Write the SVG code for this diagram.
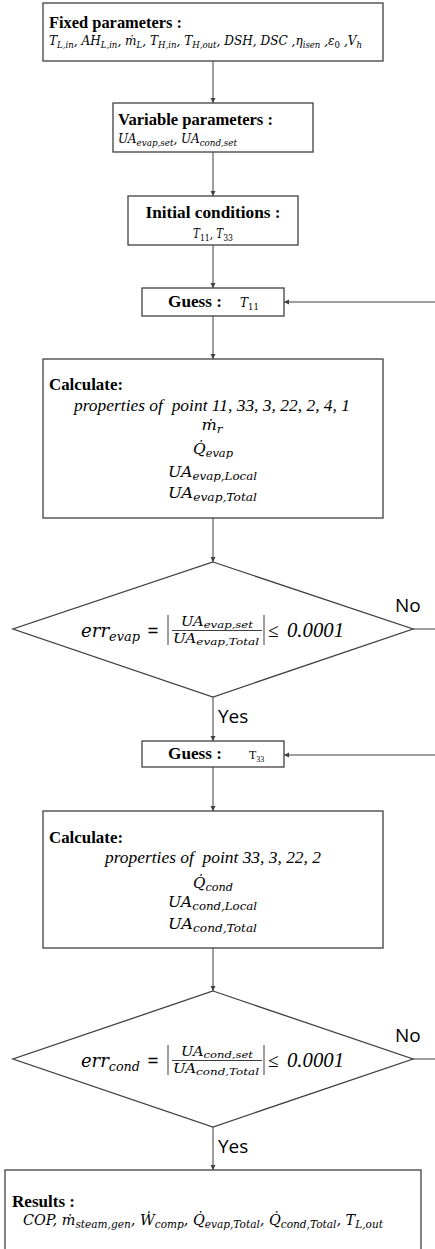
<svg xmlns="http://www.w3.org/2000/svg" width="435" height="1249" viewBox="0 0 435 1249">
<style>
.box{fill:#fff;stroke:#404040;stroke-width:1.3}
.conn{stroke:#404040;stroke-width:1;fill:none}
.b{font-family:"Liberation Serif","Times New Roman",serif;font-weight:bold;font-size:17px;fill:#000}
.m{font-family:"DejaVu Serif",serif;font-style:italic;fill:#000}
.t{font-family:"Liberation Serif","Times New Roman",serif;font-style:italic;fill:#000}
.up{font-style:normal}
.lab{font-family:"Open Sans","Liberation Sans",sans-serif;font-size:19px;fill:#000}
</style>
<defs>
<marker id="ah" markerUnits="userSpaceOnUse" markerWidth="6" markerHeight="6" refX="5" refY="2.5" orient="auto">
<path d="M0,0 L5,2.5 L0,5 z" fill="#404040"/>
</marker>
</defs>

<g id="connectors">
<line class="conn" x1="213" y1="61" x2="213" y2="103" marker-end="url(#ah)"/>
<line class="conn" x1="213" y1="152" x2="213" y2="196" marker-end="url(#ah)"/>
<line class="conn" x1="213" y1="245" x2="213" y2="288" marker-end="url(#ah)"/>
<line class="conn" x1="213" y1="316" x2="213" y2="359" marker-end="url(#ah)"/>
<line class="conn" x1="213" y1="518" x2="213" y2="562" marker-end="url(#ah)"/>
<line class="conn" x1="213" y1="697" x2="213" y2="741" marker-end="url(#ah)"/>
<line class="conn" x1="213" y1="767" x2="213" y2="811" marker-end="url(#ah)"/>
<line class="conn" x1="213" y1="948" x2="213" y2="991" marker-end="url(#ah)"/>
<line class="conn" x1="213" y1="1127" x2="213" y2="1170" marker-end="url(#ah)"/>
<line class="conn" x1="413" y1="629" x2="435" y2="629"/>
<line class="conn" x1="435" y1="302" x2="284" y2="302" marker-end="url(#ah)"/>
<line class="conn" x1="413" y1="1059" x2="435" y2="1059"/>
<line class="conn" x1="435" y1="755" x2="284" y2="755" marker-end="url(#ah)"/>
</g>

<g id="fixed">
<rect class="box" x="43" y="3" width="340" height="58"/>
<text class="b" x="49" y="28" font-size="16.5" textLength="133" lengthAdjust="spacingAndGlyphs">Fixed parameters :</text>
<text class="m" x="49" y="45" font-size="12" textLength="313" lengthAdjust="spacingAndGlyphs">T<tspan font-size="8.5" dy="3">L,in</tspan><tspan dy="-3">,  AH</tspan><tspan font-size="8.5" dy="3">L,in</tspan><tspan dy="-3">,  ṁ</tspan><tspan font-size="8.5" dy="3">L</tspan><tspan dy="-3">,  T</tspan><tspan font-size="8.5" dy="3">H,in</tspan><tspan dy="-3">, T</tspan><tspan font-size="8.5" dy="3">H,out</tspan><tspan dy="-3">, DSH,  DSC ,η</tspan><tspan font-size="8.5" dy="3">isen</tspan><tspan dy="-3"> ,ε</tspan><tspan font-size="8.5" dy="3" class="up">0</tspan><tspan dy="-3"> ,V</tspan><tspan font-size="8.5" dy="3">h</tspan></text>
</g>

<g id="variable">
<rect class="box" x="113" y="103" width="200" height="49"/>
<text class="b" x="118" y="125" font-size="16.5" textLength="155" lengthAdjust="spacingAndGlyphs">Variable parameters :</text>
<text class="m" x="118" y="143" font-size="12.5" textLength="119" lengthAdjust="spacingAndGlyphs">UA<tspan font-size="9" dy="3">evap,set</tspan><tspan dy="-3">, UA</tspan><tspan font-size="9" dy="3">cond,set</tspan></text>
</g>

<g id="initial">
<rect class="box" x="128" y="196" width="170" height="49"/>
<text class="b" x="213" y="218" text-anchor="middle" textLength="135" lengthAdjust="spacingAndGlyphs">Initial conditions :</text>
<text class="m" x="193" y="238" font-size="12" textLength="40" lengthAdjust="spacingAndGlyphs">T<tspan font-size="9" dy="3" class="up">11</tspan><tspan dy="-3">, T</tspan><tspan font-size="9" dy="3" class="up">33</tspan></text>
</g>

<g id="guess1">
<rect class="box" x="142" y="288" width="142" height="28"/>
<text class="b" x="168" y="307" textLength="54" lengthAdjust="spacingAndGlyphs">Guess :</text>
<text class="m" x="240" y="307" font-size="12">T<tspan font-size="8.5" dy="3" class="up">11</tspan></text>
</g>

<g id="calc1">
<rect class="box" x="43" y="359" width="340" height="159"/>
<text class="b" x="49" y="390" textLength="74" lengthAdjust="spacingAndGlyphs">Calculate:</text>
<text class="t" x="212" y="411" font-size="17" text-anchor="middle" textLength="276" lengthAdjust="spacingAndGlyphs">properties of &#160;point 11, 33, 3, 22, 2, 4, 1</text>
<text class="m" x="212" y="430" font-size="15.5" text-anchor="middle" textLength="21" lengthAdjust="spacingAndGlyphs">ṁ<tspan font-size="11.5" dy="3">r</tspan></text>
<text class="m" x="213" y="454" font-size="15.5" text-anchor="middle" textLength="40" lengthAdjust="spacingAndGlyphs">Q̇<tspan font-size="11.5" dy="3">evap</tspan></text>
<text class="m" x="212.5" y="477" font-size="15.5" text-anchor="middle" textLength="89" lengthAdjust="spacingAndGlyphs">UA<tspan font-size="11.5" dy="3">evap,Local</tspan></text>
<text class="m" x="212.5" y="498" font-size="15.5" text-anchor="middle" textLength="89" lengthAdjust="spacingAndGlyphs">UA<tspan font-size="11.5" dy="3">evap,Total</tspan></text>
</g>

<g id="check1">
<polygon class="box" points="213,562 413,629 213,697 13,629"/>
<text class="m" x="81" y="637" font-size="19" textLength="59" lengthAdjust="spacingAndGlyphs">err<tspan font-size="13.5" dy="4">evap</tspan></text>
<text x="147" y="637" font-family="DejaVu Serif,serif" font-size="18" textLength="12" lengthAdjust="spacingAndGlyphs">=</text>
<line class="conn" x1="168" y1="615" x2="168" y2="645" stroke="#000"/>
<line class="conn" x1="264" y1="615" x2="264" y2="645" stroke="#000"/>
<line class="conn" x1="172" y1="630.5" x2="262" y2="630.5" stroke="#000"/>
<text class="m" x="181" y="626" font-size="12" textLength="72" lengthAdjust="spacingAndGlyphs">UA<tspan font-size="9.5" dy="2">evap,set</tspan></text>
<text class="m" x="173" y="643" font-size="12" textLength="86" lengthAdjust="spacingAndGlyphs">UA<tspan font-size="9.5" dy="2">evap,Total</tspan></text>
<text x="268" y="637" font-family="Liberation Serif,serif" font-size="19">≤</text>
<text class="t" x="287" y="637" font-size="20" textLength="57" lengthAdjust="spacingAndGlyphs">0.0001</text>
<text class="lab" x="395" y="612">No</text>
<text class="lab" x="218" y="723">Yes</text>
</g>

<g id="guess2">
<rect class="box" x="142" y="741" width="142" height="26"/>
<text class="b" x="168" y="759" textLength="54" lengthAdjust="spacingAndGlyphs">Guess :</text>
<text x="249" y="759" font-family="Liberation Serif,serif" font-size="12">T<tspan font-size="8" dy="3">33</tspan></text>
</g>

<g id="calc2">
<rect class="box" x="43" y="811" width="340" height="137"/>
<text class="b" x="49" y="843" textLength="74" lengthAdjust="spacingAndGlyphs">Calculate:</text>
<text class="t" x="213" y="863" font-size="17" text-anchor="middle" textLength="216" lengthAdjust="spacingAndGlyphs">properties of &#160;point 33, 3, 22, 2</text>
<text class="m" x="213" y="888" font-size="15.5" text-anchor="middle" textLength="40" lengthAdjust="spacingAndGlyphs">Q̇<tspan font-size="11.5" dy="3">cond</tspan></text>
<text class="m" x="212.5" y="907" font-size="15.5" text-anchor="middle" textLength="89" lengthAdjust="spacingAndGlyphs">UA<tspan font-size="11.5" dy="3">cond,Local</tspan></text>
<text class="m" x="212.5" y="929" font-size="15.5" text-anchor="middle" textLength="89" lengthAdjust="spacingAndGlyphs">UA<tspan font-size="11.5" dy="3">cond,Total</tspan></text>
</g>

<g id="check2">
<polygon class="box" points="213,991 413,1059 213,1127 13,1059"/>
<text class="m" x="81" y="1067" font-size="19" textLength="59" lengthAdjust="spacingAndGlyphs">err<tspan font-size="13.5" dy="4">cond</tspan></text>
<text x="147" y="1067" font-family="DejaVu Serif,serif" font-size="18" textLength="12" lengthAdjust="spacingAndGlyphs">=</text>
<line class="conn" x1="168" y1="1045" x2="168" y2="1075" stroke="#000"/>
<line class="conn" x1="264" y1="1045" x2="264" y2="1075" stroke="#000"/>
<line class="conn" x1="172" y1="1060.5" x2="262" y2="1060.5" stroke="#000"/>
<text class="m" x="181" y="1056" font-size="12" textLength="72" lengthAdjust="spacingAndGlyphs">UA<tspan font-size="9.5" dy="2">cond,set</tspan></text>
<text class="m" x="173" y="1073" font-size="12" textLength="86" lengthAdjust="spacingAndGlyphs">UA<tspan font-size="9.5" dy="2">cond,Total</tspan></text>
<text x="268" y="1067" font-family="Liberation Serif,serif" font-size="19">≤</text>
<text class="t" x="287" y="1067" font-size="20" textLength="57" lengthAdjust="spacingAndGlyphs">0.0001</text>
<text class="lab" x="395" y="1042">No</text>
<text class="lab" x="218" y="1153">Yes</text>
</g>

<g id="results">
<rect class="box" x="5" y="1170" width="416" height="100"/>
<text class="b" x="12" y="1207" textLength="63" lengthAdjust="spacingAndGlyphs">Results :</text>
<text class="m" x="23" y="1225" font-size="15" textLength="360" lengthAdjust="spacingAndGlyphs">COP, ṁ<tspan font-size="11" dy="3">steam,gen</tspan><tspan dy="-3">, Ẇ</tspan><tspan font-size="11" dy="3">comp</tspan><tspan dy="-3">, Q̇</tspan><tspan font-size="11" dy="3">evap,Total</tspan><tspan dy="-3">, Q̇</tspan><tspan font-size="11" dy="3">cond,Total</tspan><tspan dy="-3">, T</tspan><tspan font-size="11" dy="3">L,out</tspan></text>
</g>
</svg>
